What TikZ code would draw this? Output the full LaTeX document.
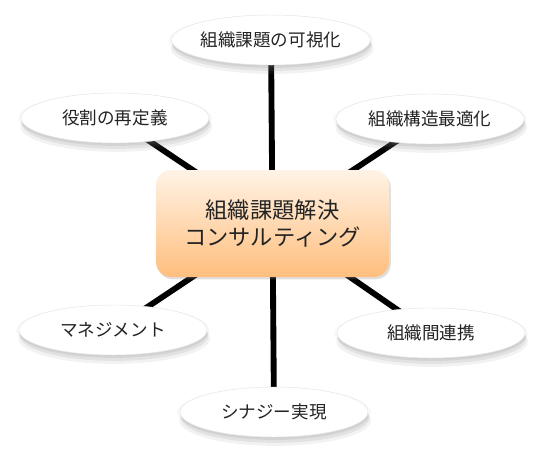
\documentclass[tikz,border=0pt]{standalone}
\usepackage{fontspec}
\newfontfamily\jpfont{Noto Sans CJK JP}
\usepackage{tikz}
\usetikzlibrary{shapes.geometric,shadows,backgrounds}

\definecolor{hubtop}{RGB}{255,243,230}
\definecolor{hubbottom}{RGB}{255,190,125}
\definecolor{inkgray}{RGB}{35,35,35}

\tikzset{
  topic/.style={ellipse, fill=white, draw=black!10, line width=0.4pt,
    minimum width=5.64cm, minimum height=1.5cm,
    inner sep=0pt, text=inkgray, font=\jpfont\fontsize{15}{18}\selectfont,
    drop shadow={shadow xshift=1pt, shadow yshift=-7pt, shadow scale=1.02, opacity=0.10},
    drop shadow={shadow xshift=1pt, shadow yshift=-5pt, opacity=0.14},
    drop shadow={shadow xshift=0.5pt, shadow yshift=-2.5pt, opacity=0.14},
    drop shadow={shadow xshift=0pt, shadow yshift=-0.5pt, shadow scale=1.03, opacity=0.06}},
  hub/.style={rounded corners=13pt, top color=hubtop, bottom color=hubbottom,
    minimum width=6.99cm, minimum height=3.21cm, align=center, text=inkgray,
    font=\jpfont\fontsize{19}{23}\selectfont,
    drop shadow={shadow xshift=1.5pt, shadow yshift=-2pt, opacity=0.25}},
  spoke/.style={line width=5pt, black}
}

\begin{document}
\begin{tikzpicture}[x=0.03cm, y=-0.03cm]
  \useasboundingbox (0,0) rectangle (546,467);

  \node (hub) [hub] at (272.5,223.5) {組織課題解決\\コンサルティング};

  \node (visual) [topic] at (271,40) {組織課題の可視化};
  \node (role) [topic] at (115,118) {役割の再定義};
  \node (struct) [topic] at (430,119) {組織構造最適化};
  \node (mgmt) [topic] at (113,330) {マネジメント};
  \node (link) [topic] at (431,333) {組織間連携};
  \node (synergy) [topic] at (274,412) {シナジー実現};

  \begin{scope}[on background layer]
    \foreach \t in {visual,role,struct,mgmt,link,synergy}
      \draw[spoke] (hub.center) -- (\t.center);
  \end{scope}
\end{tikzpicture}
\end{document}
